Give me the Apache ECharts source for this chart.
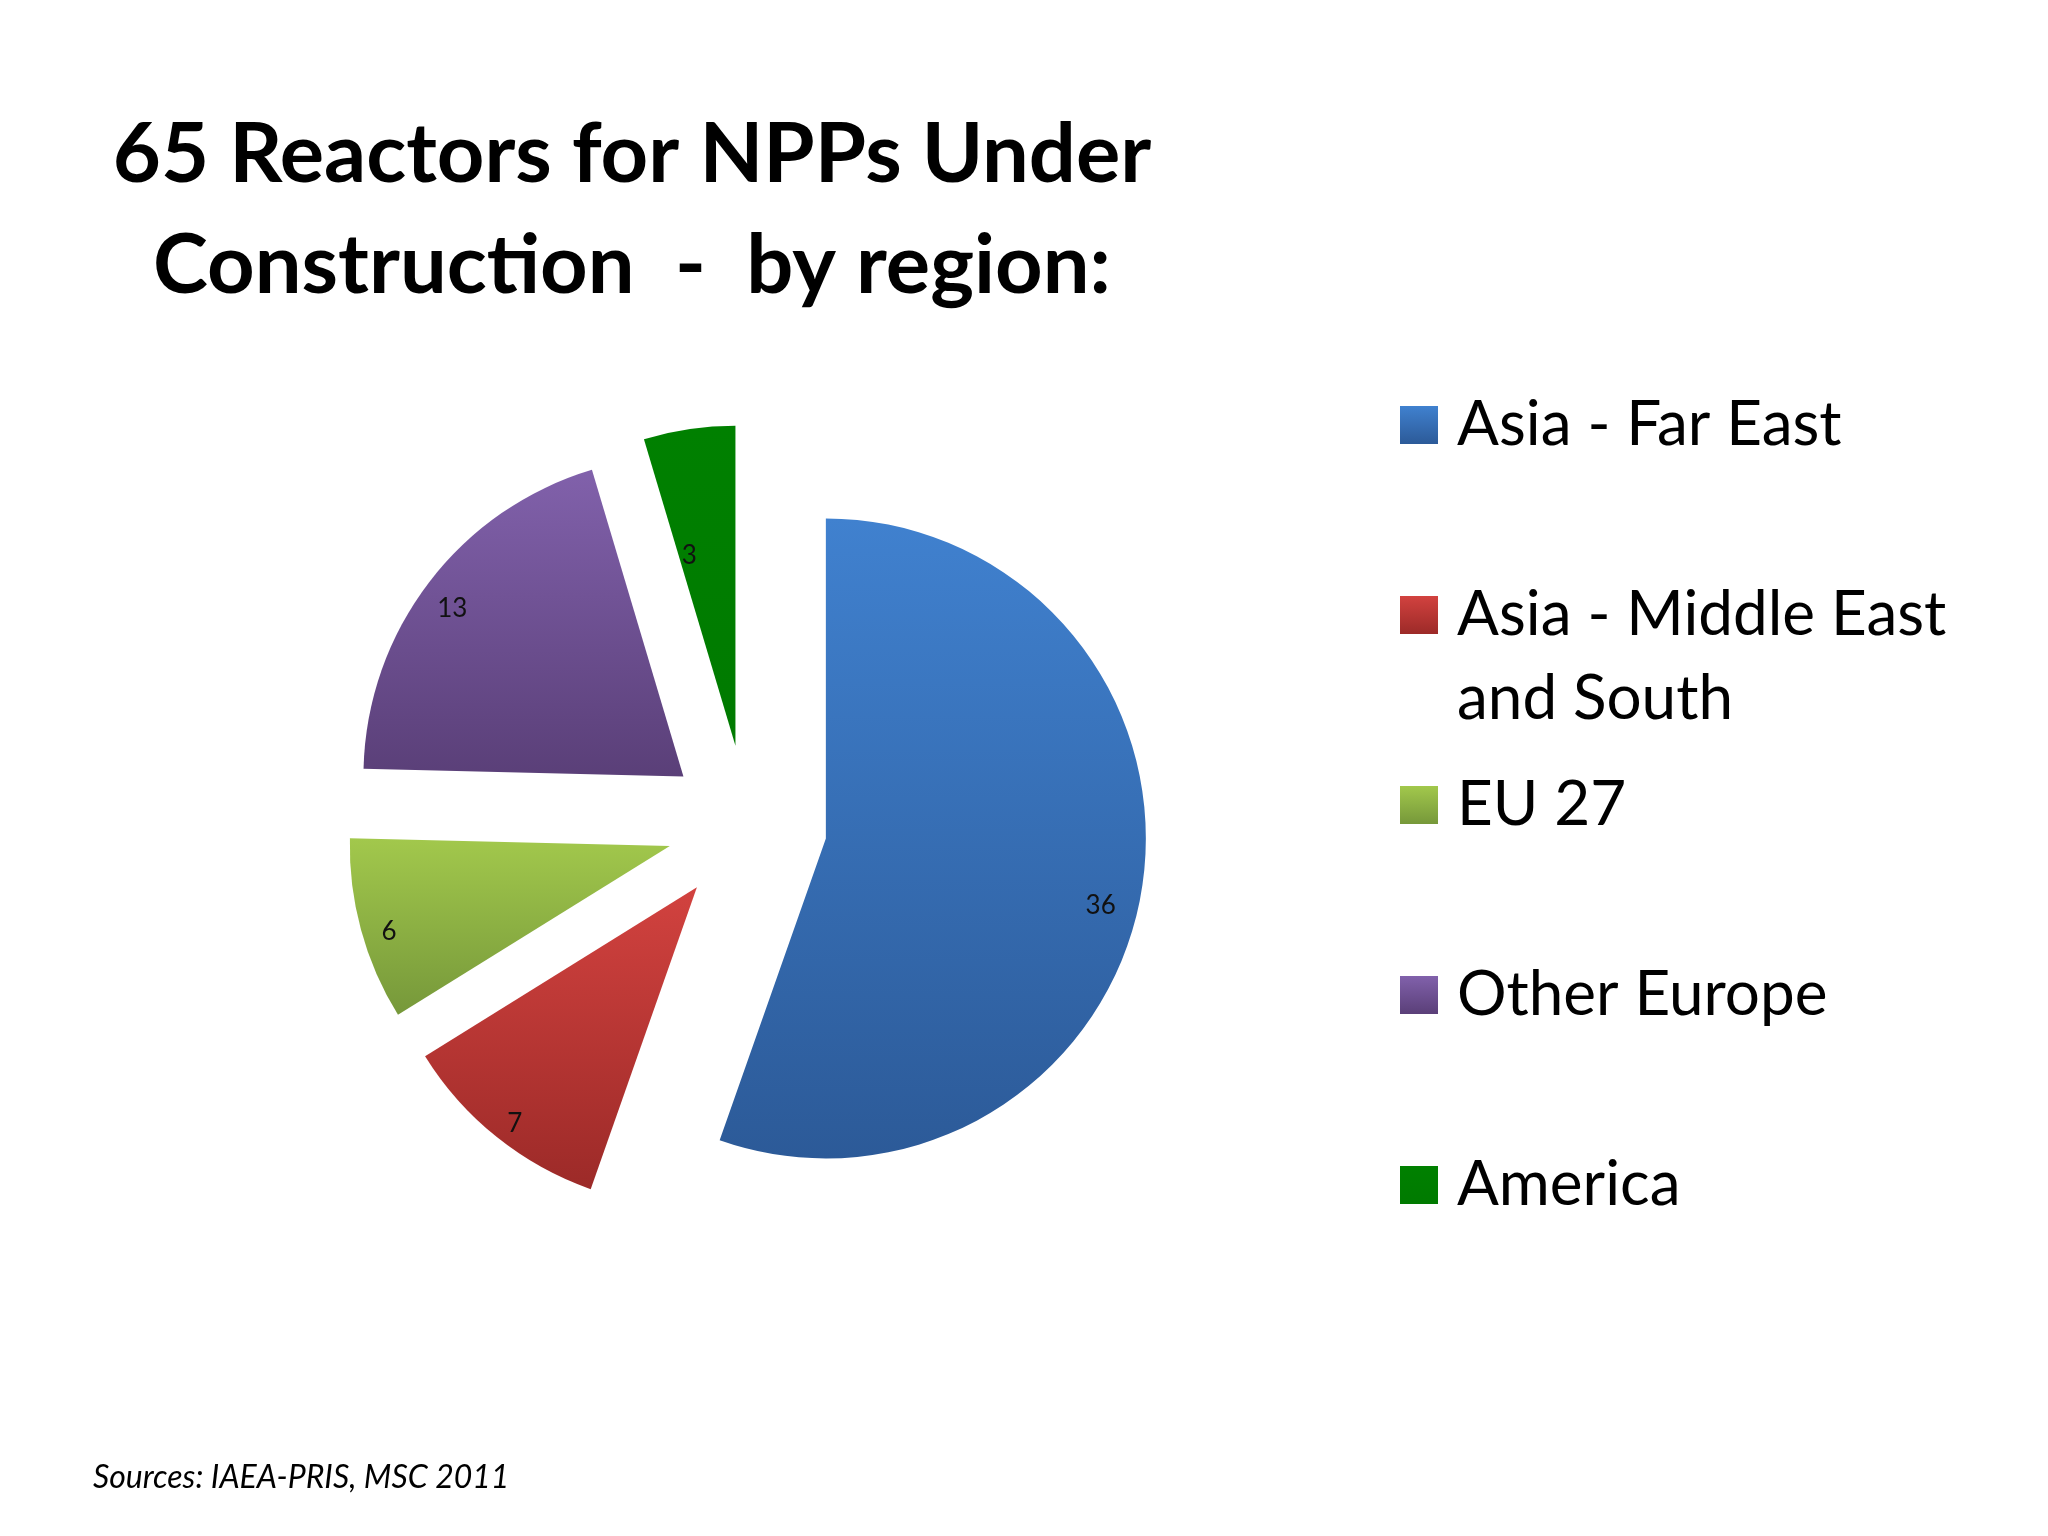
<!DOCTYPE html>
<html>
<head>
<meta charset="utf-8">
<script src="https://cdn.jsdelivr.net/npm/echarts@6/dist/echarts.min.js"></script>
<style>
    html, body { margin: 0; background: #fff; }
    #chart { width: 2048px; height: 1536px; }
</style>
</head>
<body>
<div id="chart"></div>
<script>
const regions = ['Asia - Far East', 'Asia - Middle East and South', 'EU 27', 'Other Europe', 'America']
const reactors = [36, 7, 6, 13, 3]
const topColors = ['#4081CF', '#D2423F', '#A2C84C', '#8161AB', '#008000']
const bottomColors = ['#2C5A98', '#9C2A28', '#76983A', '#5A3F78', '#007A00']

const chart = echarts.init(document.getElementById('chart'))

function grad(i) {
    return new echarts.graphic.LinearGradient(0, 0, 0, 1, [
        {offset: 0, color: topColors[i]},
        {offset: 1, color: bottomColors[i]}
    ])
}

// shared pie geometry, all slices exploded like the Excel chart
const pieBase = {
    type: 'pie',
    center: [747, 825],
    startAngle: 90,
    selectedMode: 'multiple',
    selectedOffset: 80,
    animation: false,
    emphasis: {disabled: true},
    labelLine: {show: false}
}

// the empty first line pushes the value down by lineHeight / 2
const labelStyle = {
    show: true,
    position: 'inside',
    formatter: '\n{c}',
    color: '#111',
    fontFamily: 'Lato',
    fontSize: 26,
    lineHeight: 18
}

const slices = regions.map((name, i) => ({
    name, value: reactors[i], selected: true, itemStyle: {color: grad(i)}
}))

// transparent rings only used to place the value labels near the rim
const outerLabels = regions.map((name, i) => {
    const item = {name, value: reactors[i], selected: true, label: {show: name !== 'America'}}
    if (i === 0) {
        item.label.lineHeight = 36
        item.label.padding = [0, 24, 0, 0]
    }
    return item
})
const innerLabels = regions.map((name, i) => ({
    name, value: reactors[i], selected: true,
    label: {show: name === 'America', padding: [0, 34, 0, 0]}
}))

chart.setOption({
    backgroundColor: '#fff',
    title: [{
        text: '65 Reactors for NPPs Under\nConstruction  -  by region:',
        left: 632,
        top: 100,
        padding: 0,
        textAlign: 'center',
        textStyle: {fontFamily: 'Lato', fontWeight: 'bold', fontSize: 83, lineHeight: 111, color: '#000'}
    }, {
        text: 'Sources: IAEA-PRIS, MSC 2011',
        left: 93,
        top: 1458,
        padding: 0,
        textStyle: {fontFamily: 'Lato', fontStyle: 'italic', fontWeight: 'normal', fontSize: 32, lineHeight: 40, color: '#000'}
    }],
    legend: {
        orient: 'vertical',
        left: 1400,
        top: 299,
        padding: 0,
        itemGap: -62,
        itemWidth: 38,
        itemHeight: 38,
        icon: 'rect',
        selectedMode: false,
        data: regions,
        // pad every entry to three lines so the icon sits on the first text line
        formatter: name => name.includes(' and ')
            ? '\n' + name.replace(' and ', '\nand ')
            : '\n' + name + '\n',
        textStyle: {fontFamily: 'Lato', fontSize: 62, lineHeight: 84, color: '#000', padding: [0, 0, 0, 14]}
    },
    series: [
        Object.assign({}, pieBase, {
            name: 'slices',
            radius: [0, 320],
            label: {show: false},
            data: slices
        }),
        Object.assign({}, pieBase, {
            name: 'outer labels',
            radius: [256, 320],
            silent: true,
            legendHoverLink: false,
            itemStyle: {color: 'rgba(0,0,0,0)'},
            label: labelStyle,
            data: outerLabels
        }),
        Object.assign({}, pieBase, {
            name: 'inner labels',
            radius: [160, 236],
            silent: true,
            legendHoverLink: false,
            itemStyle: {color: 'rgba(0,0,0,0)'},
            label: labelStyle,
            data: innerLabels
        })
    ]
})
</script>
</body>
</html>
